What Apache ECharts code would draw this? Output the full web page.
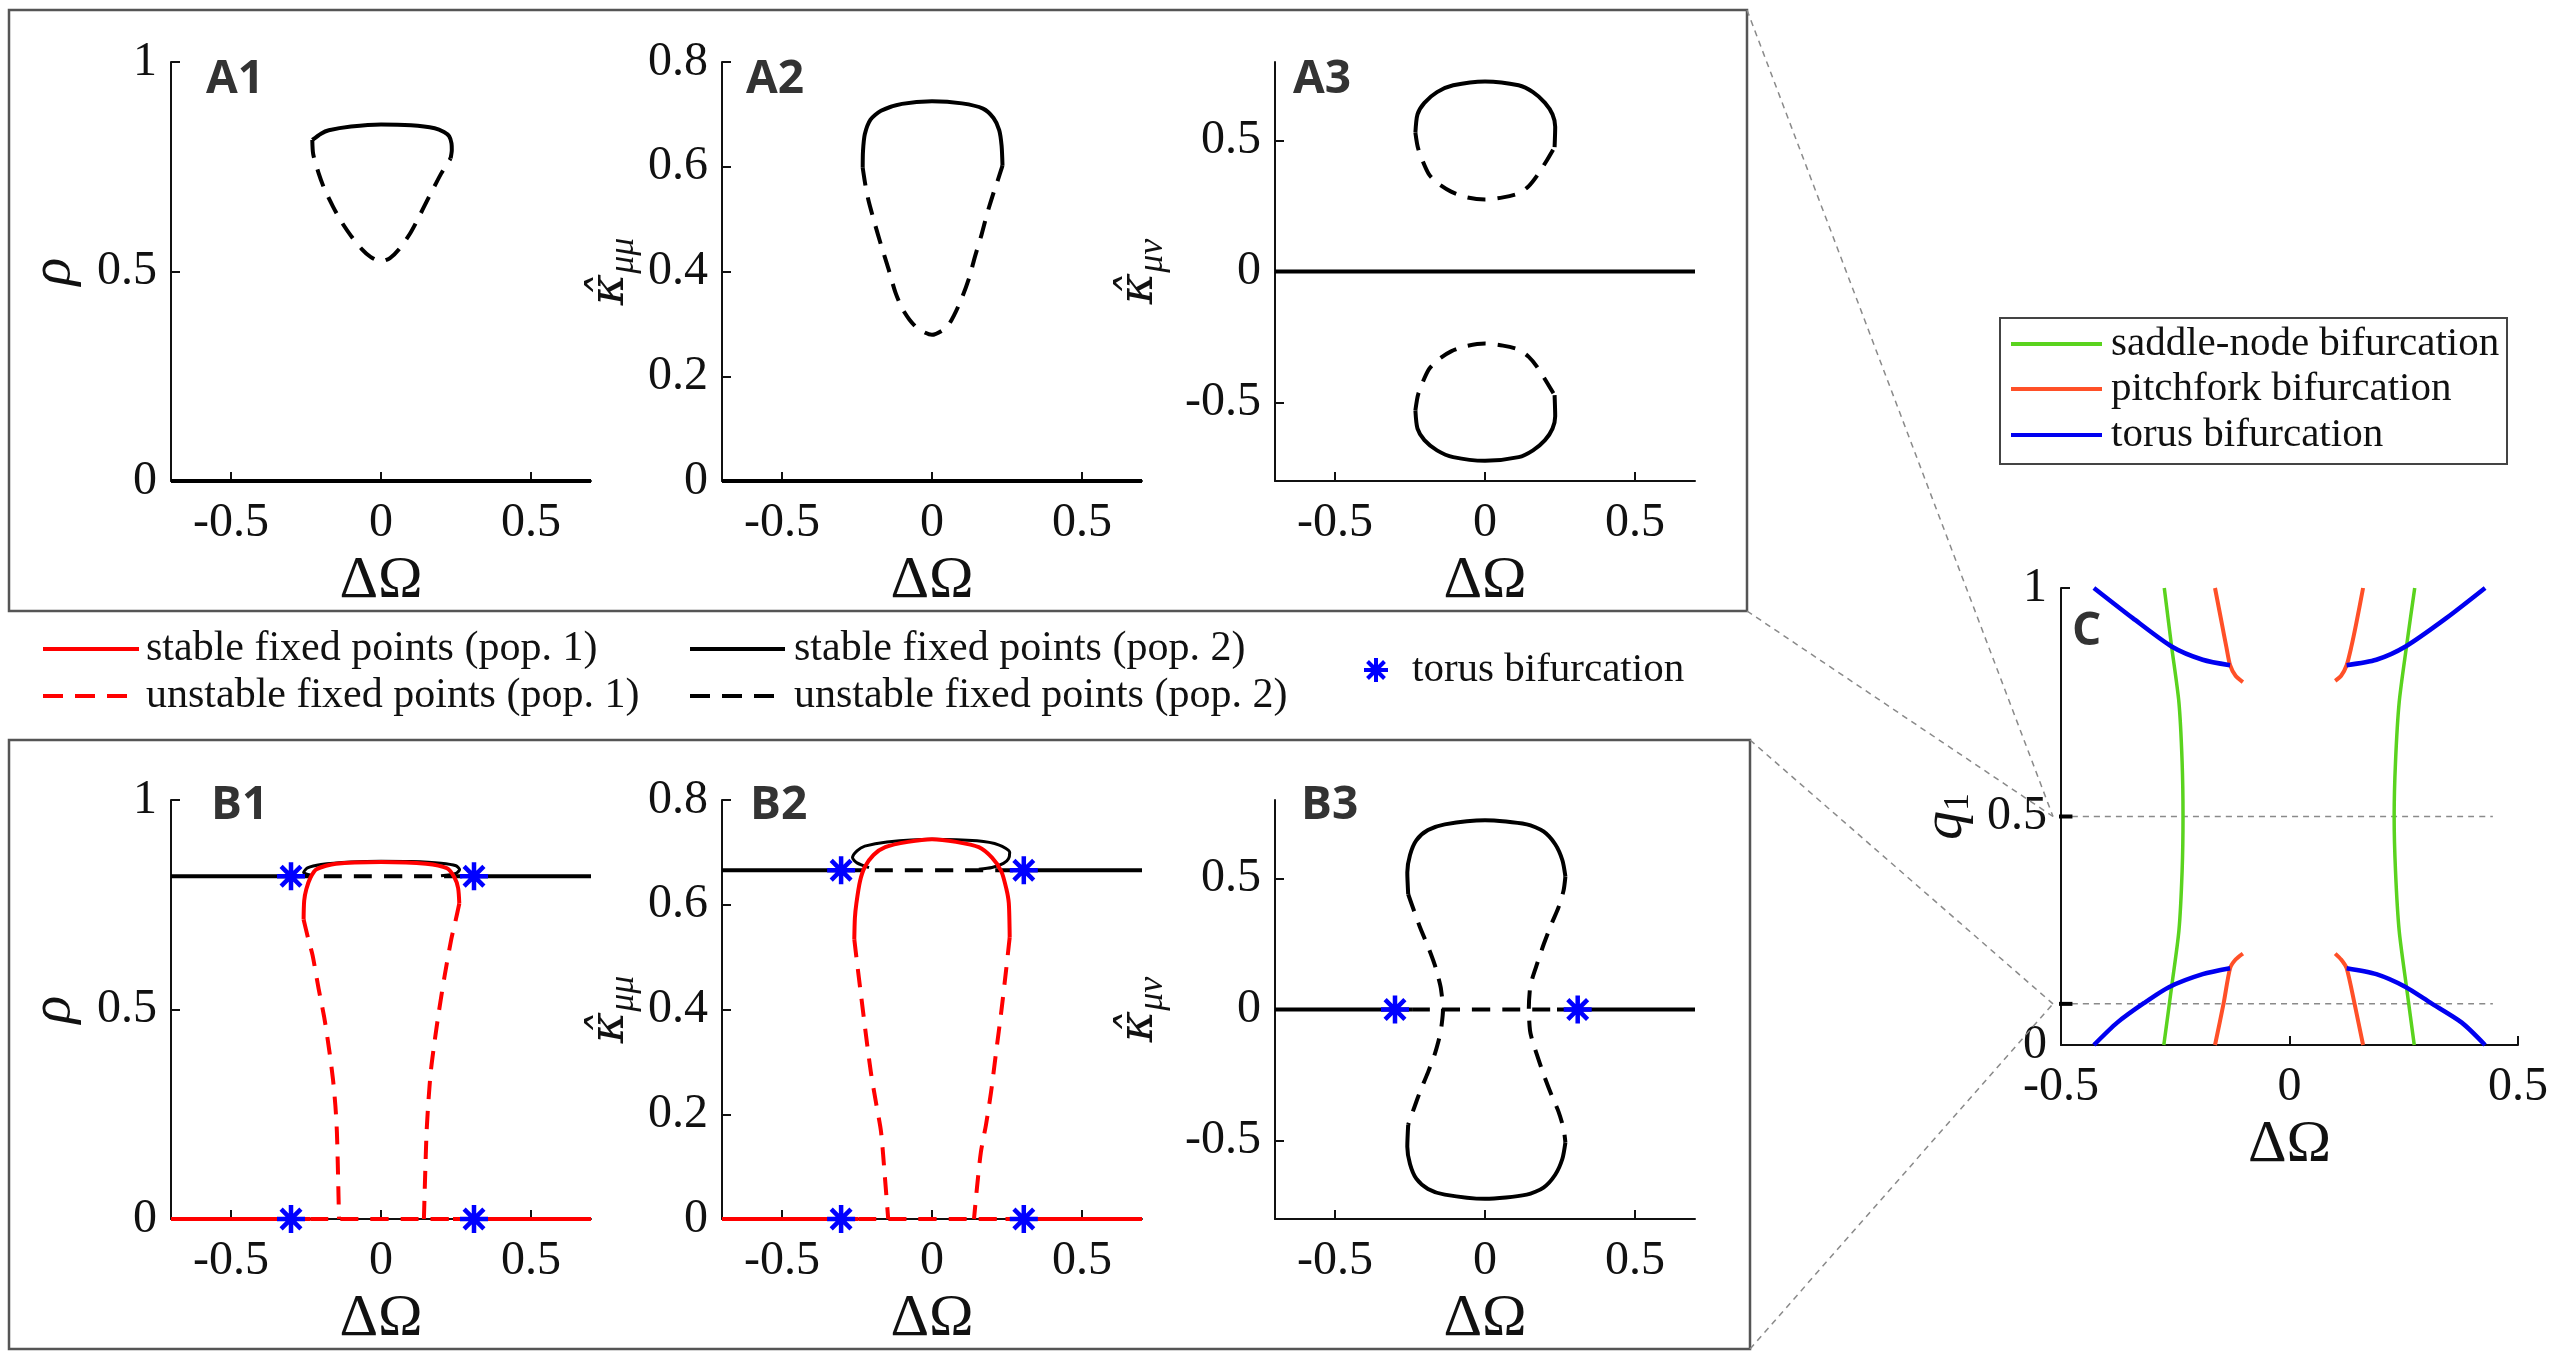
<!DOCTYPE html>
<html>
<head>
<meta charset="utf-8">
<script src="https://cdn.jsdelivr.net/npm/echarts@6/dist/echarts.min.js"></script>
<style>
html,body{margin:0;padding:0;background:#fff;}
#chart{width:2560px;height:1360px;}
</style>
</head>
<body>
<div id="chart"></div>
<script>
// ---------------- DATA ----------------
const xTicks = [-0.5, 0, 0.5];
const a3Ticks = [-0.5, 0, 0.5];
const xRange = [-0.7, 0.7];

// A1: rho
const a1Zero = [[-0.7, 0], [0.7, 0]];
const a1Stable = [[-0.229,0.814],[-0.2,0.829],[-0.174,0.837],[-0.1,0.846],[0,0.851],[0.1,0.849],[0.179,0.842],[0.21,0.833],[0.227,0.823],[0.235,0.806],[0.236,0.79],[0.232,0.77]];
const a1Unstable = [[-0.229,0.814],[-0.226,0.78],[-0.208,0.735],[-0.188,0.696],[-0.16,0.655],[-0.133,0.62],[-0.1,0.585],[-0.065,0.554],[-0.035,0.535],[0,0.524],[0.03,0.532],[0.06,0.553],[0.098,0.592],[0.125,0.628],[0.152,0.667],[0.178,0.703],[0.2,0.733],[0.22,0.756],[0.232,0.77]];

// A2: kappa_mumu
const a2Zero = [[-0.7, 0], [0.7, 0]];
const a2Stable = [[-0.231,0.598],[-0.23,0.63],[-0.224,0.662],[-0.205,0.69],[-0.17,0.707],[-0.1,0.72],[0,0.725],[0.1,0.721],[0.17,0.711],[0.205,0.693],[0.224,0.67],[0.232,0.64],[0.235,0.602]];
const a2Unstable = [[-0.231,0.598],[-0.222,0.565],[-0.211,0.534],[-0.19,0.49],[-0.17,0.451],[-0.145,0.405],[-0.122,0.36],[-0.1,0.33],[-0.075,0.308],[-0.045,0.29],[0,0.279],[0.048,0.293],[0.075,0.318],[0.102,0.353],[0.125,0.39],[0.143,0.428],[0.165,0.47],[0.184,0.511],[0.205,0.55],[0.218,0.572],[0.235,0.602]];

// A3: kappa_munu
const a3Zero = [[-0.7, 0], [0.7, 0]];
const a3StableUp = [[-0.232,0.53],[-0.225,0.6],[-0.202,0.644],[-0.16,0.685],[-0.106,0.711],[0,0.726],[0.112,0.711],[0.16,0.685],[0.2,0.644],[0.225,0.6],[0.234,0.553],[0.232,0.475]];
const a3UnstableUp = [[-0.232,0.53],[-0.222,0.466],[-0.188,0.373],[-0.155,0.335],[-0.113,0.305],[-0.06,0.283],[0,0.275],[0.06,0.283],[0.112,0.298],[0.145,0.325],[0.173,0.365],[0.207,0.426],[0.232,0.475]];
const a3StableDown = [[-0.232,-0.53],[-0.225,-0.6],[-0.202,-0.644],[-0.16,-0.683],[-0.106,-0.709],[0,-0.723],[0.112,-0.709],[0.16,-0.683],[0.2,-0.644],[0.225,-0.6],[0.234,-0.553],[0.232,-0.472]];
const a3UnstableDown = [[-0.232,-0.53],[-0.222,-0.466],[-0.188,-0.375],[-0.155,-0.336],[-0.113,-0.305],[-0.06,-0.284],[0,-0.275],[0.06,-0.283],[0.112,-0.298],[0.145,-0.325],[0.173,-0.363],[0.207,-0.425],[0.232,-0.472]];

// B1: rho
const b1BlackStableL = [[-0.7,0.818],[-0.29,0.818]];
const b1BlackUnstable = [[-0.29,0.818],[0.3,0.818]];
const b1BlackStableR = [[0.3,0.818],[0.7,0.818]];
const b1BlackLoop = [[-0.23,0.82],[-0.258,0.827],[-0.245,0.838],[-0.2,0.846],[-0.1,0.852],[0,0.854],[0.1,0.853],[0.2,0.849],[0.25,0.843],[0.262,0.834],[0.25,0.825],[0.2,0.819]];
const b1RedStableL = [[-0.7,0],[-0.235,0]];
const b1RedUnstable0 = [[-0.235,0],[0.24,0]];
const b1RedStableR = [[0.24,0],[0.7,0]];
const b1RedCap = [[-0.258,0.715],[-0.256,0.76],[-0.249,0.787],[-0.235,0.815],[-0.215,0.835],[-0.15,0.848],[0,0.852],[0.15,0.848],[0.22,0.837],[0.245,0.815],[0.257,0.79],[0.261,0.753]];
const b1RedUnstableL = [[-0.258,0.715],[-0.243,0.67],[-0.228,0.629],[-0.208,0.55],[-0.188,0.476],[-0.172,0.4],[-0.16,0.333],[-0.152,0.27],[-0.147,0.208],[-0.143,0.1],[-0.14,0]];
const b1RedUnstableR = [[0.261,0.753],[0.248,0.71],[0.234,0.667],[0.212,0.58],[0.193,0.495],[0.178,0.42],[0.166,0.352],[0.158,0.28],[0.152,0.208],[0.147,0.1],[0.143,0]];
const b1Torus = [[-0.3,0.818],[0.31,0.818],[-0.3,0],[0.31,0]];

// B2: kappa_mumu
const b2BlackStableL = [[-0.7,0.666],[-0.29,0.666]];
const b2BlackUnstable = [[-0.29,0.666],[0.29,0.666]];
const b2BlackStableR = [[0.29,0.666],[0.7,0.666]];
const b2BlackLoop = [[-0.21,0.671],[-0.25,0.68],[-0.265,0.69],[-0.25,0.703],[-0.224,0.712],[-0.15,0.72],[0,0.725],[0.15,0.722],[0.224,0.714],[0.259,0.7],[0.255,0.688],[0.238,0.679],[0.2,0.671],[0.156,0.668]];
const b2RedStableL = [[-0.7,0],[-0.245,0]];
const b2RedUnstable0 = [[-0.245,0],[0.245,0]];
const b2RedStableR = [[0.245,0],[0.7,0]];
const b2RedCap = [[-0.259,0.534],[-0.257,0.575],[-0.252,0.603],[-0.24,0.645],[-0.224,0.672],[-0.195,0.695],[-0.156,0.71],[-0.08,0.72],[0,0.725],[0.08,0.72],[0.156,0.71],[0.2,0.69],[0.231,0.664],[0.248,0.63],[0.256,0.603],[0.259,0.538]];
const b2RedUnstableL = [[-0.259,0.534],[-0.25,0.49],[-0.238,0.434],[-0.222,0.36],[-0.204,0.281],[-0.186,0.22],[-0.17,0.167],[-0.157,0.08],[-0.146,0]];
const b2RedUnstableR = [[0.259,0.538],[0.246,0.47],[0.231,0.396],[0.214,0.32],[0.197,0.243],[0.18,0.18],[0.163,0.128],[0.15,0.06],[0.14,0]];
const b2Torus = [[-0.303,0.666],[0.306,0.666],[-0.303,0],[0.306,0]];

// B3: kappa_munu
const b3StableL = [[-0.7,0],[-0.243,0]];
const b3Unstable0 = [[-0.243,0],[0.24,0]];
const b3StableR = [[0.24,0],[0.7,0]];
const b3StableUp = [[-0.256,0.44],[-0.259,0.524],[-0.25,0.59],[-0.229,0.646],[-0.19,0.685],[-0.134,0.707],[0,0.723],[0.139,0.707],[0.195,0.68],[0.234,0.631],[0.258,0.57],[0.268,0.508]];
const b3StableDown = [[-0.256,-0.44],[-0.259,-0.524],[-0.25,-0.59],[-0.229,-0.646],[-0.19,-0.685],[-0.134,-0.707],[0,-0.723],[0.139,-0.707],[0.195,-0.68],[0.234,-0.631],[0.258,-0.57],[0.268,-0.508]];
const b3UnstableL = [[-0.256,0.44],[-0.236,0.375],[-0.215,0.309],[-0.19,0.24],[-0.168,0.172],[-0.155,0.12],[-0.147,0.08],[-0.14,0],[-0.147,-0.08],[-0.155,-0.12],[-0.168,-0.172],[-0.19,-0.24],[-0.215,-0.309],[-0.236,-0.375],[-0.256,-0.44]];
const b3UnstableR = [[0.268,0.508],[0.262,0.455],[0.245,0.39],[0.221,0.325],[0.196,0.25],[0.173,0.172],[0.158,0.12],[0.15,0.08],[0.146,0],[0.15,-0.08],[0.158,-0.12],[0.173,-0.172],[0.196,-0.25],[0.221,-0.325],[0.245,-0.39],[0.262,-0.455],[0.268,-0.508]];
const b3Torus = [[-0.3,0],[0.309,0]];

// C: q1 vs DeltaOmega
const qA = 0.5;
const qB = 0.09;
const cRefEnd = 0.445;
const cGreenLeft = [[-0.274,1.0],[-0.258,0.872],[-0.242,0.75],[-0.235,0.62],[-0.233,0.5],[-0.235,0.38],[-0.242,0.25],[-0.258,0.127],[-0.275,0]];
const cGreenRight = [[0.274,1.0],[0.256,0.872],[0.24,0.75],[0.232,0.62],[0.229,0.5],[0.232,0.38],[0.24,0.25],[0.256,0.127],[0.273,0]];
const cRedTopLeft = [[-0.163,1.0],[-0.148,0.922],[-0.138,0.87],[-0.13,0.831],[-0.118,0.808],[-0.102,0.794]];
const cRedTopRight = [[0.161,1.0],[0.146,0.922],[0.135,0.87],[0.125,0.831],[0.113,0.808],[0.10,0.797]];
const cRedBotLeft = [[-0.163,0],[-0.144,0.092],[-0.13,0.168],[-0.118,0.187],[-0.102,0.2]];
const cRedBotRight = [[0.161,0],[0.142,0.092],[0.125,0.168],[0.113,0.187],[0.10,0.2]];
const cBlueTopLeft = [[-0.428,1.0],[-0.343,0.934],[-0.258,0.872],[-0.19,0.843],[-0.13,0.831]];
const cBlueTopRight = [[0.428,1.0],[0.343,0.934],[0.254,0.872],[0.19,0.843],[0.125,0.831]];
const cBlueBotLeft = [[-0.428,0],[-0.377,0.049],[-0.318,0.092],[-0.263,0.127],[-0.19,0.155],[-0.13,0.168]];
const cBlueBotRight = [[0.428,0],[0.377,0.049],[0.309,0.092],[0.254,0.127],[0.19,0.155],[0.125,0.168]];

const legendMid = ['stable fixed points (pop. 1)', 'unstable fixed points (pop. 1)', 'stable fixed points (pop. 2)', 'unstable fixed points (pop. 2)', 'torus bifurcation'];
const legendC = ['saddle-node bifurcation', 'pitchfork bifurcation', 'torus bifurcation'];

// ---------------- STYLE ----------------
const SERIF = '"Liberation Serif", "Times New Roman", Times, serif';
const MATHF = '"DejaVu Serif", serif';
const SANS = '"Open Sans", sans-serif';
const BLACK = '#000000', RED = '#ff0000', BLUE = '#0000ff';
const GREEN = '#5ad31e', ORANGE = '#ff5028', CBLUE = '#0000f0';
const DASH = [18, 12];
const STAR = 'path://M0,-10L0,10M-10,0L10,0M-7.07,-7.07L7.07,7.07M-7.07,7.07L7.07,-7.07';
const TICK_FS = 48;

const grids = [
  {left:171, top:62, width:420, height:419},
  {left:722, top:62, width:420, height:419},
  {left:1275, top:62, width:420, height:419},
  {left:171, top:800, width:420, height:419},
  {left:722, top:800, width:420, height:419},
  {left:1275, top:800, width:420, height:419},
  {left:2061, top:588, width:457, height:457}
];

function fmt(v){ return '{t|' + String(+(+v).toFixed(3)) + '}'; }
const tickRich = {t:{fontFamily:SERIF, fontSize:TICK_FS, color:'#111'}};

function xAx(i, min, max, ticks){
  return {
    type:'value', gridIndex:i, min:min, max:max,
    name:'{x|ΔΩ}', nameLocation:'middle', nameGap:70,
    nameTextStyle:{fontFamily:SERIF, fontSize:60, color:'#111', rich:{x:{fontFamily:SERIF, fontSize:60, color:'#111'}}},
    axisLine:{onZero:false, lineStyle:{color:'#111', width:2}},
    axisTick:{show:true, inside:true, length:9, customValues:ticks, lineStyle:{color:'#111', width:2}},
    axisLabel:{customValues:ticks, margin:18, fontFamily:SERIF, fontSize:TICK_FS, color:'#111', formatter:fmt, rich:tickRich},
    splitLine:{show:false}
  };
}
const kStyle = {fontFamily:SERIF, fontStyle:'italic', fontSize:58, lineHeight:62, color:'#111', verticalAlign:'middle'};
const hStyle = {fontFamily:MATHF, fontStyle:'italic', fontSize:48, lineHeight:62, color:'#111', verticalAlign:'middle'};
const sStyle = {fontFamily:SERIF, fontStyle:'italic', fontSize:36, lineHeight:36, color:'#111', verticalAlign:'bottom'};
const s1Style = {fontFamily:SERIF, fontSize:36, lineHeight:36, color:'#111', verticalAlign:'bottom'};
function yAx(i, min, max, ticks, name, gap){
  return {
    type:'value', gridIndex:i, min:min, max:max,
    name:name, nameLocation:'middle', nameGap:gap, nameRotate:90,
    nameTextStyle:{fontFamily:SERIF, fontSize:54, color:'#111', rich:{k:kStyle, h:hStyle, s:sStyle, n:s1Style}},
    axisLine:{onZero:false, lineStyle:{color:'#111', width:2}},
    axisTick:{show:true, inside:true, length:9, customValues:ticks, lineStyle:{color:'#111', width:2}},
    axisLabel:{customValues:ticks, margin:14, fontFamily:SERIF, fontSize:TICK_FS, color:'#111', formatter:fmt, rich:tickRich},
    splitLine:{show:false}
  };
}

const NAME_RHO = '{k|ρ}';
const NAME_KMM = '{h|κ̂}{s|μμ}';
const NAME_KMN = '{h|κ̂}{s|μν}';
const NAME_Q = '{k|q}{n|1}';

const xAxes = [
  xAx(0, xRange[0], xRange[1], xTicks),
  xAx(1, xRange[0], xRange[1], xTicks),
  xAx(2, xRange[0], xRange[1], xTicks),
  xAx(3, xRange[0], xRange[1], xTicks),
  xAx(4, xRange[0], xRange[1], xTicks),
  xAx(5, xRange[0], xRange[1], xTicks),
  xAx(6, -0.5, 0.5, xTicks)
];
const yAxes = [
  yAx(0, 0, 1, [0, 0.5, 1], NAME_RHO, 86),
  yAx(1, 0, 0.8, [0, 0.2, 0.4, 0.6, 0.8], NAME_KMM, 80),
  yAx(2, -0.8, 0.8, a3Ticks, NAME_KMN, 104),
  yAx(3, 0, 1, [0, 0.5, 1], NAME_RHO, 86),
  yAx(4, 0, 0.8, [0, 0.2, 0.4, 0.6, 0.8], NAME_KMM, 80),
  yAx(5, -0.8, 0.8, a3Ticks, NAME_KMN, 104),
  yAx(6, 0, 1, [0, 0.5, 1], NAME_Q, 84)
];

function ln(g, data, color, width, dashed, extra){
  const s = {
    type:'line', xAxisIndex:g, yAxisIndex:g, data:data,
    showSymbol:false, symbol:'none', smooth:0.25, silent:true, animation:false,
    lineStyle:{color:color, width:width, type: dashed ? DASH : 'solid', cap:'butt', join:'round'}
  };
  return Object.assign(s, extra || {});
}
function stars(g, data){
  return {type:'scatter', xAxisIndex:g, yAxisIndex:g, data:data, symbol:STAR, symbolSize:28,
    itemStyle:{color:BLUE, borderColor:BLUE, borderWidth:4.5, opacity:1}, silent:true, animation:false, z:10, clip:false};
}

const LW = 4;
const series = [
  ln(0, a1Zero, BLACK, LW, false),
  ln(0, a1Stable, BLACK, LW, false),
  ln(0, a1Unstable, BLACK, LW, true),
  ln(1, a2Zero, BLACK, LW, false),
  ln(1, a2Stable, BLACK, LW, false),
  ln(1, a2Unstable, BLACK, LW, true),
  ln(2, a3Zero, BLACK, LW, false),
  ln(2, a3StableUp, BLACK, LW, false),
  ln(2, a3UnstableUp, BLACK, LW, true),
  ln(2, a3StableDown, BLACK, LW, false),
  ln(2, a3UnstableDown, BLACK, LW, true),
  ln(3, b1BlackStableL, BLACK, LW, false),
  ln(3, b1BlackUnstable, BLACK, LW, true),
  ln(3, b1BlackStableR, BLACK, LW, false),
  ln(3, b1BlackLoop, BLACK, 3, false),
  ln(3, b1RedStableL, RED, LW, false),
  ln(3, b1RedUnstable0, RED, LW, true),
  ln(3, b1RedStableR, RED, LW, false),
  ln(3, b1RedCap, RED, LW, false),
  ln(3, b1RedUnstableL, RED, LW, true),
  ln(3, b1RedUnstableR, RED, LW, true),
  stars(3, b1Torus),
  ln(4, b2BlackStableL, BLACK, LW, false),
  ln(4, b2BlackUnstable, BLACK, LW, true),
  ln(4, b2BlackStableR, BLACK, LW, false),
  ln(4, b2BlackLoop, BLACK, 3, false),
  ln(4, b2RedStableL, RED, LW, false),
  ln(4, b2RedUnstable0, RED, LW, true),
  ln(4, b2RedStableR, RED, LW, false),
  ln(4, b2RedCap, RED, LW, false),
  ln(4, b2RedUnstableL, RED, LW, true),
  ln(4, b2RedUnstableR, RED, LW, true),
  stars(4, b2Torus),
  ln(5, b3StableL, BLACK, LW, false),
  ln(5, b3Unstable0, BLACK, LW, true),
  ln(5, b3StableR, BLACK, LW, false),
  ln(5, b3StableUp, BLACK, LW, false),
  ln(5, b3StableDown, BLACK, LW, false),
  ln(5, b3UnstableL, BLACK, LW, true),
  ln(5, b3UnstableR, BLACK, LW, true),
  stars(5, b3Torus),
  ln(6, [[-0.5, qA],[cRefEnd, qA]], '#8a8a8a', 1.5, false, {lineStyle:{color:'#8a8a8a', width:1.5, type:[6,5]}}),
  ln(6, [[-0.5, qB],[cRefEnd, qB]], '#8a8a8a', 1.5, false, {lineStyle:{color:'#8a8a8a', width:1.5, type:[6,5]}}),
  ln(6, [[-0.52, qA],[-0.475, qA]], BLACK, 4, false, {clip:false, z:5}),
  ln(6, [[-0.52, qB],[-0.475, qB]], BLACK, 4, false, {clip:false, z:5}),
  ln(6, cGreenLeft, GREEN, 3.5, false),
  ln(6, cGreenRight, GREEN, 3.5, false),
  ln(6, cRedTopLeft, ORANGE, 4, false),
  ln(6, cRedTopRight, ORANGE, 4, false),
  ln(6, cRedBotLeft, ORANGE, 4, false),
  ln(6, cRedBotRight, ORANGE, 4, false),
  ln(6, cBlueTopLeft, CBLUE, 4.5, false),
  ln(6, cBlueTopRight, CBLUE, 4.5, false),
  ln(6, cBlueBotLeft, CBLUE, 4.5, false),
  ln(6, cBlueBotRight, CBLUE, 4.5, false)
];

const chart = echarts.init(document.getElementById('chart'), null, {renderer:'canvas', width:2560, height:1360});
chart.setOption({
  backgroundColor:'#ffffff',
  animation:false,
  textStyle:{fontFamily:SERIF},
  grid: grids,
  xAxis: xAxes,
  yAxis: yAxes,
  series: series
});

// ---------------- DECORATION (frames, legends, panel labels, zoom connectors) ----------------
function txt(x, y, text, size, family, weight, color, align){
  return {type:'text', x:x, y:y, silent:true, z:20,
    style:{text:text, fontSize:size, lineHeight:size + 2, fontFamily:family, fontWeight:weight||'normal', fill:color||'#111', align:align||'left', verticalAlign:'middle'}};
}
function seg(x1, y1, x2, y2, color, w, dash){
  const st = {stroke:color, lineWidth:w};
  if (dash) st.lineDash = dash;
  return {type:'line', silent:true, z:20, shape:{x1:x1, y1:y1, x2:x2, y2:y2}, style:st};
}
function starGlyph(x, y, r, color, w){
  const d = r * 0.7071;
  return [
    seg(x, y - r, x, y + r, color, w),
    seg(x - r, y, x + r, y, color, w),
    seg(x - d, y - d, x + d, y + d, color, w),
    seg(x - d, y + d, x + d, y - d, color, w)
  ];
}
const pA = chart.convertToPixel({gridIndex:6}, [-0.5, qA]);
const pB = chart.convertToPixel({gridIndex:6}, [-0.5, qB]);
const cx = pA[0] - 8;

const graphic = [
  {type:'rect', silent:true, z:1, shape:{x:9, y:10, width:1738, height:601}, style:{fill:'none', stroke:'#555', lineWidth:2.5}},
  {type:'rect', silent:true, z:1, shape:{x:9, y:740, width:1741, height:609}, style:{fill:'none', stroke:'#555', lineWidth:2.5}},
  seg(1747, 10, cx, pA[1], '#8a8a8a', 1.5, [6,5]),
  seg(1747, 611, cx, pA[1], '#8a8a8a', 1.5, [6,5]),
  seg(1750, 740, cx, pB[1], '#8a8a8a', 1.5, [6,5]),
  seg(1750, 1349, cx, pB[1], '#8a8a8a', 1.5, [6,5]),
  txt(206, 80, 'A1', 46, SANS, 'bold', '#333'),
  txt(746, 80, 'A2', 46, SANS, 'bold', '#333'),
  txt(1293, 80, 'A3', 46, SANS, 'bold', '#333'),
  txt(211, 806, 'B1', 46, SANS, 'bold', '#333'),
  txt(750, 806, 'B2', 46, SANS, 'bold', '#333'),
  txt(1301, 806, 'B3', 46, SANS, 'bold', '#333'),
  txt(2072, 632, 'C', 46, SANS, 'bold', '#333'),
  seg(43, 649, 139, 649, RED, 4),
  seg(43, 696, 139, 696, RED, 4, [20,12]),
  seg(690, 649, 785, 649, BLACK, 4),
  seg(690, 696, 785, 696, BLACK, 4, [20,12]),
  txt(146, 649, legendMid[0], 42, SERIF),
  txt(146, 696, legendMid[1], 42, SERIF),
  txt(794, 649, legendMid[2], 42, SERIF),
  txt(794, 696, legendMid[3], 42, SERIF),
  ...starGlyph(1376, 670, 12, BLUE, 4),
  txt(1412, 670, legendMid[4], 41, SERIF),
  {type:'rect', silent:true, z:20, shape:{x:2000, y:318, width:507, height:146}, style:{fill:'#fff', stroke:'#444', lineWidth:2}},
  seg(2011, 344, 2102, 344, GREEN, 4),
  seg(2011, 389, 2102, 389, ORANGE, 4),
  seg(2011, 435, 2102, 435, CBLUE, 4),
  txt(2111, 344, legendC[0], 41, SERIF),
  txt(2111, 389, legendC[1], 41, SERIF),
  txt(2111, 435, legendC[2], 41, SERIF)
];
chart.setOption({graphic: graphic});
</script>
</body>
</html>
